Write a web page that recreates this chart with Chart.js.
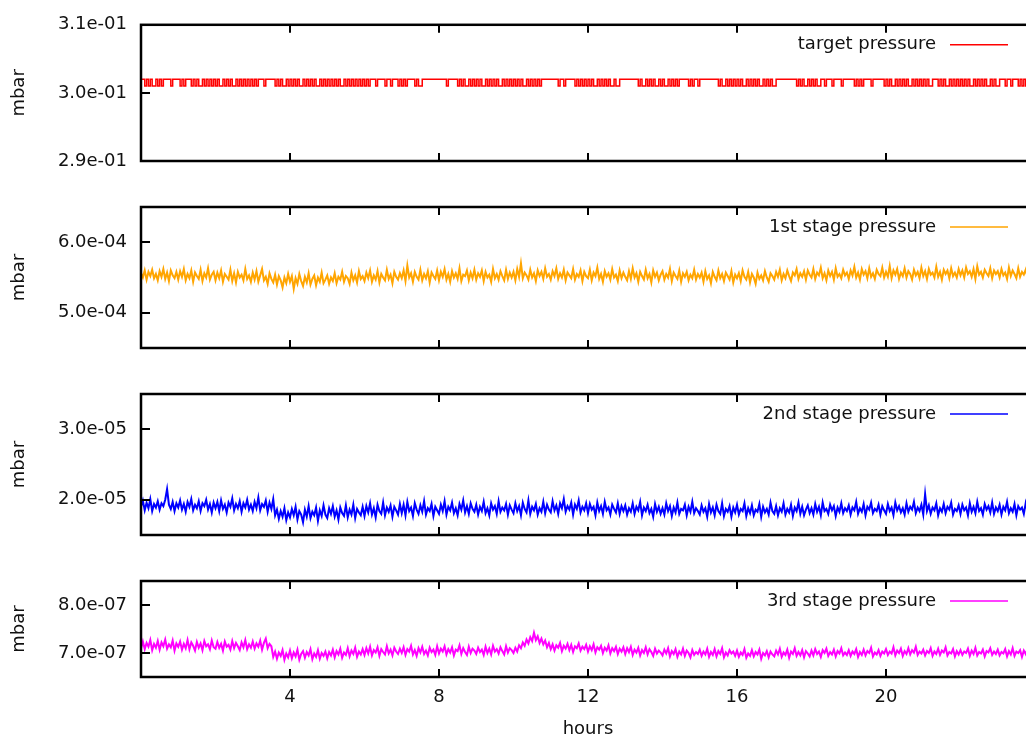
<!DOCTYPE html>
<html>
<head>
<meta charset="utf-8">
<script src="https://cdn.jsdelivr.net/npm/chart.js@4/dist/chart.umd.min.js"></script>
<style>
  html, body { margin: 0; padding: 0; background: #fff; overflow: hidden; width: 1026px; height: 738px; }
  canvas { position: absolute; left: 0; top: 0; }
</style>
</head>
<body>
<canvas id="p0" width="1060" height="738"></canvas>
<canvas id="p1" width="1060" height="738"></canvas>
<canvas id="p2" width="1060" height="738"></canvas>
<canvas id="p3" width="1060" height="738"></canvas>
<script>
// x axis (hours)
const hourTicks = [4, 8, 12, 16, 20];
const hourMin = 0, hourMax = 24;

// all series: one sample every 0.05 h, one row per hour
const sampleStep = 0.05;

// target pressure, mbar (reading toggles between two levels)
const targetPressure = [
  0.302,0.302,0.301,0.302,0.301,0.302,0.301,0.301,0.302,0.301,0.302,0.301,0.302,0.302,0.302,0.302,0.301,0.302,0.302,0.302,
  0.302,0.301,0.302,0.301,0.302,0.302,0.302,0.301,0.302,0.301,0.302,0.301,0.301,0.302,0.301,0.302,0.301,0.302,0.301,0.302,
  0.301,0.302,0.301,0.301,0.302,0.301,0.302,0.301,0.302,0.301,0.301,0.302,0.301,0.302,0.301,0.302,0.301,0.302,0.301,0.302,
  0.301,0.302,0.301,0.302,0.302,0.302,0.301,0.302,0.302,0.302,0.302,0.302,0.301,0.302,0.301,0.302,0.301,0.301,0.302,0.301,
  0.302,0.301,0.302,0.301,0.302,0.301,0.301,0.302,0.301,0.302,0.301,0.302,0.301,0.302,0.301,0.301,0.302,0.301,0.302,0.301,
  0.302,0.301,0.302,0.301,0.302,0.301,0.302,0.301,0.301,0.302,0.301,0.302,0.301,0.302,0.301,0.302,0.301,0.302,0.301,0.302,
  0.301,0.302,0.301,0.302,0.302,0.302,0.301,0.302,0.302,0.302,0.302,0.301,0.302,0.302,0.301,0.302,0.302,0.302,0.301,0.302,
  0.301,0.302,0.301,0.302,0.302,0.302,0.302,0.301,0.302,0.301,0.301,0.302,0.302,0.302,0.302,0.302,0.302,0.302,0.302,0.302,
  0.302,0.302,0.302,0.302,0.301,0.302,0.302,0.302,0.302,0.302,0.301,0.302,0.301,0.302,0.301,0.301,0.302,0.301,0.302,0.301,
  0.302,0.301,0.302,0.301,0.301,0.302,0.301,0.302,0.301,0.302,0.301,0.302,0.301,0.301,0.302,0.301,0.302,0.301,0.302,0.301,
  0.302,0.301,0.302,0.301,0.302,0.301,0.301,0.302,0.301,0.302,0.301,0.302,0.301,0.302,0.301,0.302,0.302,0.302,0.302,0.302,
  0.302,0.302,0.302,0.302,0.301,0.302,0.302,0.301,0.302,0.302,0.302,0.302,0.302,0.301,0.302,0.301,0.302,0.301,0.302,0.301,
  0.302,0.301,0.302,0.301,0.301,0.302,0.301,0.302,0.301,0.302,0.301,0.302,0.301,0.301,0.302,0.301,0.301,0.302,0.302,0.302,
  0.302,0.302,0.302,0.302,0.302,0.302,0.302,0.301,0.302,0.301,0.301,0.302,0.301,0.302,0.301,0.302,0.301,0.301,0.302,0.301,
  0.302,0.301,0.301,0.302,0.301,0.302,0.301,0.302,0.301,0.302,0.302,0.302,0.302,0.302,0.301,0.302,0.301,0.302,0.302,0.301,
  0.302,0.302,0.302,0.302,0.302,0.302,0.302,0.302,0.302,0.302,0.301,0.302,0.301,0.301,0.302,0.301,0.302,0.301,0.302,0.301,
  0.302,0.301,0.302,0.301,0.301,0.302,0.301,0.302,0.301,0.302,0.301,0.302,0.301,0.301,0.302,0.301,0.302,0.301,0.302,0.301,
  0.301,0.302,0.302,0.302,0.302,0.302,0.302,0.302,0.302,0.302,0.302,0.302,0.301,0.302,0.301,0.302,0.301,0.301,0.302,0.301,
  0.302,0.301,0.302,0.301,0.301,0.302,0.302,0.301,0.302,0.302,0.302,0.301,0.302,0.302,0.302,0.302,0.301,0.302,0.302,0.302,
  0.302,0.302,0.302,0.301,0.302,0.301,0.302,0.301,0.302,0.302,0.302,0.302,0.301,0.302,0.302,0.302,0.302,0.302,0.302,0.301,
  0.302,0.301,0.302,0.301,0.301,0.302,0.301,0.302,0.301,0.302,0.301,0.302,0.301,0.301,0.302,0.301,0.302,0.301,0.302,0.301,
  0.302,0.301,0.302,0.301,0.301,0.302,0.302,0.302,0.301,0.302,0.301,0.302,0.301,0.301,0.302,0.301,0.302,0.301,0.302,0.301,
  0.302,0.301,0.302,0.301,0.302,0.301,0.301,0.302,0.301,0.302,0.301,0.302,0.301,0.302,0.301,0.301,0.302,0.301,0.302,0.301,
  0.301,0.302,0.302,0.302,0.301,0.302,0.302,0.301,0.302,0.302,0.302,0.301,0.302,0.301,0.302,0.301,0.302,0.302,0.302,0.302,
  0.302
];

// 1st stage, in units of 1e-4 mbar
const stage1Unit = 1e-4;
const stage1 = [
  5.56,5.50,5.60,5.47,5.58,5.52,5.61,5.49,5.55,5.46,5.59,5.51,5.62,5.48,5.57,5.45,5.60,5.53,5.49,5.58,
  5.47,5.59,5.51,5.62,5.46,5.55,5.49,5.60,5.44,5.57,5.52,5.48,5.61,5.45,5.56,5.50,5.63,5.47,5.54,5.58,
  5.46,5.57,5.49,5.60,5.44,5.55,5.51,5.47,5.61,5.45,5.56,5.43,5.58,5.50,5.54,5.46,5.62,5.48,5.53,5.44,
  5.57,5.47,5.59,5.44,5.53,5.62,5.46,5.51,5.41,5.56,5.48,5.43,5.54,5.40,5.52,5.46,5.36,5.50,5.42,5.55,
  5.44,5.52,5.34,5.49,5.41,5.55,5.45,5.38,5.51,5.43,5.56,5.40,5.48,5.53,5.39,5.50,5.44,5.57,5.42,5.47,
  5.53,5.41,5.50,5.45,5.56,5.42,5.51,5.47,5.58,5.44,5.52,5.49,5.41,5.57,5.46,5.53,5.43,5.59,5.48,5.52,
  5.45,5.57,5.49,5.60,5.44,5.53,5.47,5.59,5.43,5.55,5.50,5.46,5.61,5.48,5.54,5.42,5.58,5.51,5.47,5.56,
  5.49,5.60,5.45,5.67,5.50,5.56,5.44,5.58,5.51,5.47,5.61,5.46,5.55,5.49,5.59,5.43,5.57,5.52,5.48,5.60,
  5.46,5.58,5.51,5.62,5.47,5.55,5.44,5.59,5.50,5.56,5.48,5.63,5.45,5.54,5.52,5.60,5.46,5.57,5.49,5.61,
  5.47,5.56,5.51,5.60,5.45,5.58,5.50,5.54,5.44,5.62,5.49,5.55,5.47,5.59,5.52,5.46,5.61,5.48,5.57,5.50,
  5.58,5.46,5.62,5.51,5.70,5.49,5.57,5.53,5.47,5.61,5.50,5.56,5.45,5.60,5.52,5.58,5.48,5.63,5.51,5.55,
  5.47,5.59,5.52,5.63,5.48,5.56,5.50,5.61,5.46,5.57,5.53,5.49,5.62,5.47,5.55,5.51,5.60,5.45,5.58,5.52,
  5.49,5.61,5.46,5.57,5.52,5.64,5.48,5.55,5.44,5.59,5.51,5.56,5.47,5.62,5.50,5.54,5.45,5.60,5.49,5.57,
  5.51,5.46,5.59,5.48,5.63,5.50,5.56,5.44,5.58,5.52,5.47,5.61,5.49,5.55,5.43,5.60,5.51,5.57,5.46,5.54,
  5.59,5.47,5.55,5.50,5.62,5.45,5.57,5.52,5.48,5.60,5.44,5.56,5.51,5.58,5.46,5.54,5.49,5.61,5.47,5.55,
  5.50,5.57,5.44,5.59,5.48,5.53,5.42,5.58,5.51,5.46,5.60,5.49,5.55,5.45,5.57,5.52,5.47,5.59,5.43,5.54,
  5.49,5.56,5.45,5.60,5.51,5.47,5.58,5.43,5.55,5.50,5.41,5.57,5.48,5.53,5.46,5.59,5.50,5.44,5.56,5.52,
  5.47,5.58,5.51,5.61,5.46,5.55,5.49,5.60,5.52,5.45,5.57,5.53,5.62,5.48,5.56,5.51,5.59,5.47,5.60,5.54,
  5.50,5.62,5.48,5.57,5.53,5.64,5.49,5.56,5.46,5.60,5.52,5.58,5.47,5.63,5.51,5.55,5.49,5.61,5.53,5.57,
  5.48,5.60,5.53,5.65,5.50,5.57,5.47,5.62,5.54,5.59,5.49,5.63,5.51,5.56,5.48,5.61,5.55,5.52,5.64,5.50,
  5.58,5.51,5.66,5.49,5.60,5.54,5.62,5.48,5.57,5.52,5.63,5.50,5.59,5.55,5.47,5.61,5.53,5.58,5.49,5.64,
  5.52,5.59,5.48,5.62,5.54,5.57,5.50,5.65,5.51,5.58,5.47,5.61,5.55,5.60,5.49,5.63,5.52,5.57,5.50,5.62,
  5.53,5.60,5.50,5.64,5.55,5.59,5.51,5.62,5.48,5.66,5.54,5.58,5.50,5.61,5.56,5.52,5.63,5.49,5.60,5.55,
  5.59,5.50,5.62,5.53,5.57,5.48,5.64,5.52,5.60,5.55,5.49,5.63,5.51,5.58,5.54,5.61,5.50,5.66,5.53,5.57,
  5.55
];

// 2nd stage, in units of 1e-5 mbar
const stage2Unit = 1e-5;
const stage2 = [
  1.90,1.99,1.85,1.96,1.88,2.01,1.84,1.94,1.89,1.98,1.86,1.95,1.91,2.00,2.15,1.93,1.87,1.97,1.84,1.95,
  1.89,1.99,1.86,1.94,1.83,1.97,1.90,2.01,1.85,1.93,1.88,1.98,1.84,1.95,1.91,2.00,1.86,1.94,1.82,1.96,
  1.88,1.97,1.84,1.99,1.87,1.93,1.82,1.96,1.90,2.02,1.85,1.94,1.88,1.98,1.83,1.95,1.89,2.00,1.86,1.93,
  1.84,1.97,1.88,2.03,1.85,1.94,1.90,1.99,1.83,1.96,1.87,2.01,1.78,1.86,1.73,1.84,1.76,1.88,1.71,1.82,
  1.75,1.87,1.78,1.90,1.72,1.84,1.79,1.68,1.86,1.76,1.91,1.74,1.83,1.78,1.89,1.70,1.85,1.77,1.92,1.79,
  1.74,1.88,1.80,1.91,1.76,1.85,1.72,1.89,1.81,1.77,1.92,1.75,1.86,1.79,1.93,1.74,1.87,1.82,1.78,1.90,
  1.77,1.91,1.82,1.95,1.79,1.88,1.75,1.93,1.84,1.80,1.96,1.78,1.89,1.83,1.92,1.76,1.90,1.85,1.79,1.94,
  1.81,1.93,1.78,1.97,1.84,1.89,1.77,1.95,1.86,1.80,1.92,1.83,1.98,1.79,1.88,1.84,1.94,1.77,1.90,1.85,
  1.80,1.93,1.84,1.98,1.79,1.90,1.85,1.96,1.81,1.88,1.78,1.94,1.86,1.99,1.82,1.91,1.80,1.95,1.87,1.83,
  1.93,1.79,1.90,1.84,1.97,1.81,1.88,1.78,1.95,1.86,1.91,1.80,1.98,1.83,1.89,1.85,1.94,1.79,1.92,1.86,
  1.81,1.95,1.84,1.91,1.78,1.96,1.87,1.82,1.99,1.80,1.90,1.85,1.94,1.79,1.88,1.83,1.97,1.81,1.93,1.86,
  1.82,1.98,1.85,1.92,1.80,1.95,1.88,2.01,1.83,1.91,1.86,1.96,1.79,1.93,1.87,1.99,1.82,1.90,1.85,1.95,
  1.81,1.94,1.86,1.90,1.78,1.96,1.84,1.91,1.80,1.97,1.85,1.89,1.79,1.93,1.87,1.82,1.95,1.80,1.91,1.84,
  1.92,1.79,1.88,1.83,1.95,1.80,1.90,1.85,1.97,1.78,1.89,1.84,1.93,1.81,1.87,1.76,1.94,1.83,1.90,1.80,
  1.88,1.79,1.95,1.84,1.91,1.77,1.89,1.82,1.96,1.80,1.87,1.85,1.93,1.78,1.90,1.83,1.97,1.81,1.88,1.84,
  1.79,1.92,1.83,1.88,1.76,1.94,1.82,1.89,1.78,1.93,1.84,1.80,1.95,1.77,1.87,1.83,1.91,1.76,1.89,1.82,
  1.93,1.79,1.87,1.84,1.95,1.77,1.88,1.81,1.92,1.78,1.86,1.83,1.94,1.76,1.90,1.82,1.87,1.79,1.96,1.84,
  1.80,1.91,1.78,1.88,1.83,1.95,1.79,1.87,1.82,1.93,1.77,1.89,1.84,1.96,1.80,1.90,1.78,1.86,1.92,1.81,
  1.88,1.79,1.94,1.83,1.90,1.78,1.96,1.84,1.87,1.80,1.93,1.85,1.91,1.77,1.89,1.83,1.95,1.81,1.88,1.84,
  1.92,1.79,1.89,1.85,1.97,1.80,1.88,1.83,1.94,1.78,1.90,1.86,1.96,1.81,1.87,1.84,1.93,1.79,1.91,1.85,
  1.80,1.94,1.84,1.89,1.78,1.96,1.85,1.91,1.82,1.88,1.79,1.95,1.83,1.90,1.86,1.97,1.81,1.89,1.84,1.93,
  1.79,2.08,1.84,1.92,1.80,1.89,1.85,1.95,1.78,1.88,1.83,1.94,1.81,1.90,1.86,1.96,1.79,1.87,1.84,1.92,
  1.80,1.93,1.85,1.89,1.78,1.95,1.83,1.90,1.81,1.97,1.84,1.88,1.79,1.94,1.86,1.91,1.82,1.96,1.80,1.89,
  1.84,1.93,1.79,1.90,1.85,1.97,1.81,1.88,1.83,1.94,1.78,1.91,1.86,1.89,1.80,1.95,1.84,1.90,1.82,1.93,
  1.86
];

// 3rd stage, in units of 1e-7 mbar
const stage3Unit = 1e-7;
const stage3 = [
  7.10,7.24,7.08,7.21,7.13,7.27,7.06,7.19,7.11,7.25,7.07,7.22,7.14,7.28,7.09,7.18,7.12,7.26,7.05,7.20,
  7.13,7.24,7.07,7.19,7.10,7.27,7.08,7.22,7.15,7.05,7.23,7.11,7.20,7.06,7.25,7.14,7.18,7.08,7.26,7.12,
  7.09,7.23,7.11,7.19,7.05,7.24,7.13,7.17,7.07,7.25,7.10,7.21,7.14,7.06,7.22,7.12,7.27,7.08,7.18,7.11,
  7.24,7.09,7.20,7.13,7.26,7.07,7.21,7.30,7.10,7.19,7.14,6.92,7.03,6.88,7.01,6.94,7.06,6.86,6.99,6.91,
  7.05,6.89,7.01,6.93,7.07,6.86,6.98,7.04,6.90,7.02,6.95,7.08,6.87,6.99,6.92,7.06,6.88,7.00,6.94,7.03,
  6.89,7.02,6.95,7.07,6.91,7.04,6.97,7.09,6.90,7.01,6.96,7.10,6.93,7.05,6.98,7.11,6.92,7.03,6.97,7.08,
  6.96,7.10,6.99,7.13,6.95,7.06,7.01,7.12,6.94,7.08,7.02,6.97,7.14,6.99,7.07,6.95,7.11,7.03,6.98,7.09,
  7.00,7.12,6.96,7.08,7.03,7.15,6.97,7.06,6.94,7.10,7.01,7.13,6.98,7.05,6.95,7.11,7.02,7.07,6.96,7.14,
  6.99,7.09,7.03,7.14,6.97,7.08,7.01,7.12,6.95,7.07,7.04,7.16,6.98,7.10,7.02,6.96,7.13,7.00,7.09,7.05,
  6.98,7.11,7.02,7.07,6.96,7.13,7.00,7.09,6.97,7.15,7.03,7.08,6.99,7.12,7.04,6.97,7.14,7.01,7.10,7.06,
  7.00,7.11,7.03,7.16,7.10,7.22,7.15,7.28,7.20,7.33,7.25,7.42,7.27,7.35,7.21,7.30,7.18,7.26,7.12,7.21,
  7.08,7.18,7.05,7.16,7.11,7.21,7.04,7.15,7.09,7.19,7.06,7.17,7.02,7.14,7.10,7.20,7.05,7.13,7.08,7.17,
  7.03,7.14,7.06,7.18,7.01,7.12,7.07,7.15,7.00,7.11,7.05,7.16,6.99,7.10,7.04,7.13,6.98,7.09,7.03,7.12,
  6.98,7.10,7.02,7.13,6.96,7.07,7.01,7.11,6.95,7.06,7.00,7.12,6.97,7.08,7.02,6.94,7.09,6.99,7.05,7.01,
  6.95,7.07,6.99,7.10,6.93,7.04,6.98,7.08,6.92,7.03,6.97,7.09,6.94,7.05,7.00,6.91,7.06,6.96,7.02,6.98,
  7.07,6.94,7.03,6.97,7.09,6.92,7.02,6.96,7.08,6.93,7.04,6.98,7.10,6.91,7.01,6.95,7.06,6.99,7.03,6.94,
  7.05,6.92,7.01,6.96,7.08,6.90,6.99,6.94,7.06,6.93,7.02,6.97,7.07,6.88,7.00,6.95,7.04,6.91,7.03,6.97,
  6.93,7.05,6.97,7.09,6.92,7.01,6.96,7.07,6.90,7.03,6.98,7.10,6.94,7.02,6.95,7.06,6.91,7.04,6.99,6.93,
  7.05,6.95,7.08,6.98,7.03,6.92,7.06,7.00,7.09,6.94,7.02,6.97,7.07,6.93,7.04,6.99,7.10,6.95,7.01,6.96,
  7.06,6.94,7.03,6.98,7.08,6.92,7.02,6.96,7.07,6.95,7.04,7.00,7.11,6.93,7.01,6.97,7.06,6.94,7.03,6.99,
  7.08,6.96,7.03,6.99,7.12,6.95,7.05,7.00,7.09,6.94,7.04,6.98,7.10,6.97,7.06,7.01,7.13,6.96,7.03,6.99,
  7.07,6.95,7.04,7.00,7.10,6.94,7.03,6.98,7.09,6.96,7.05,7.01,7.12,6.95,7.02,6.99,7.08,6.93,7.04,6.97,
  7.06,6.96,7.03,7.00,7.09,6.94,7.05,6.98,7.11,6.95,7.02,6.99,7.07,6.93,7.04,7.01,7.10,6.96,7.03,6.98,
  7.07,6.95,7.02,6.99,7.08,6.93,7.04,6.97,7.10,6.94,7.03,7.00,7.06,6.92,7.05,6.98,7.09,6.96,7.01,6.98,
  7.03
];

// y ranges and tick values, mbar
const targetRange = [0.29, 0.31];
const targetTicks = [0.29, 0.30, 0.31];
const stage1Range = [4.5e-4, 6.5e-4];
const stage1Ticks = [5e-4, 6e-4];
const stage2Range = [1.5e-5, 3.5e-5];
const stage2Ticks = [2e-5, 3e-5];
const stage3Range = [6.5e-7, 8.5e-7];
const stage3Ticks = [7e-7, 8e-7];

const FONT = { family: '"DejaVu Sans", sans-serif', size: 18 };
const INK = '#111';

function sci(v) {
  let exp = Math.floor(Math.log10(Math.abs(v)) + 1e-9);
  let mant = v / Math.pow(10, exp);
  if (Math.round(mant * 10) / 10 >= 10) { mant /= 10; exp += 1; }
  return mant.toFixed(1) + 'e' + (exp < 0 ? '-' : '+') + String(Math.abs(exp)).padStart(2, '0');
}

function toPoints(values, unit) {
  return values.map((v, i) => ({ x: i * sampleStep, y: v * unit }));
}

// gnuplot style frame: border, inward mirrored ticks, key in top right
const framePlugin = {
  id: 'frame',
  afterDraw(chart, args, opts) {
    const { ctx, chartArea: a, scales } = chart;
    ctx.save();
    ctx.strokeStyle = '#000';
    ctx.lineWidth = 2;
    hourTicks.forEach(h => {
      const x = Math.round(scales.x.getPixelForValue(h));
      ctx.beginPath();
      ctx.moveTo(x, a.top); ctx.lineTo(x, a.top + 8);
      ctx.moveTo(x, a.bottom); ctx.lineTo(x, a.bottom - 8);
      ctx.stroke();
    });
    opts.yTicks.forEach(v => {
      const y = Math.round(scales.y.getPixelForValue(v));
      ctx.beginPath();
      ctx.moveTo(a.left, y); ctx.lineTo(a.left + 9, y);
      ctx.moveTo(a.right, y); ctx.lineTo(a.right - 9, y);
      ctx.stroke();
    });
    ctx.lineWidth = 2.5;
    ctx.strokeRect(a.left, a.top, a.right - a.left, a.bottom - a.top);

    const ky = a.top + 20;
    ctx.font = FONT.size + 'px ' + FONT.family;
    ctx.fillStyle = INK;
    ctx.textAlign = 'right';
    ctx.textBaseline = 'middle';
    ctx.fillText(opts.label, 936, ky);
    ctx.strokeStyle = opts.color;
    ctx.lineWidth = 1.5;
    ctx.beginPath();
    ctx.moveTo(950, ky); ctx.lineTo(1008, ky);
    ctx.stroke();
    ctx.restore();
  }
};

function makePanel(id, opts) {
  const bottomAxis = opts.showX;
  return new Chart(document.getElementById(id), {
    type: 'line',
    data: {
      datasets: [{
        label: opts.label,
        data: opts.points,
        borderColor: opts.color,
        borderWidth: opts.lineWidth,
        stepped: opts.stepped || false,
        pointRadius: 0,
        tension: 0,
        fill: false
      }]
    },
    options: {
      responsive: false,
      animation: false,
      events: [],
      layout: { padding: { top: opts.top, bottom: opts.bottom, left: 0, right: 25 } },
      plugins: {
        legend: { display: false },
        tooltip: { enabled: false },
        frame: { label: opts.label, color: opts.color, yTicks: opts.yTicks }
      },
      scales: {
        x: {
          type: 'linear',
          min: hourMin,
          max: hourMax,
          display: bottomAxis,
          afterBuildTicks: s => { s.ticks = hourTicks.map(value => ({ value })); },
          afterFit: s => { if (bottomAxis) s.height = 61; },
          grid: { display: false, drawTicks: false },
          border: { display: false },
          ticks: { font: FONT, color: INK, padding: 10, maxRotation: 0, autoSkip: false },
          title: { display: true, text: 'hours', font: FONT, color: INK, padding: { top: 0, bottom: -2 } }
        },
        y: {
          type: 'linear',
          min: opts.range[0],
          max: opts.range[1],
          afterBuildTicks: s => { s.ticks = opts.yTicks.map(value => ({ value })); },
          afterFit: s => { s.width = 141; },
          grid: { display: false, drawTicks: false },
          border: { display: false },
          ticks: { font: FONT, color: INK, padding: 14, callback: v => sci(v) },
          title: { display: true, text: 'mbar', font: FONT, color: INK, padding: { top: 9, bottom: 0 } }
        }
      }
    },
    plugins: [framePlugin]
  });
}

makePanel('p0', {
  label: 'target pressure', color: '#ff0000', lineWidth: 1.5, stepped: true,
  points: toPoints(targetPressure, 1),
  range: targetRange, yTicks: targetTicks, top: 20, bottom: 577, showX: false
});
makePanel('p1', {
  label: '1st stage pressure', color: '#ffa500', lineWidth: 2,
  points: toPoints(stage1, stage1Unit),
  range: stage1Range, yTicks: stage1Ticks, top: 207, bottom: 390, showX: false
});
makePanel('p2', {
  label: '2nd stage pressure', color: '#0000ff', lineWidth: 2,
  points: toPoints(stage2, stage2Unit),
  range: stage2Range, yTicks: stage2Ticks, top: 394, bottom: 203, showX: false
});
makePanel('p3', {
  label: '3rd stage pressure', color: '#ff00ff', lineWidth: 2,
  points: toPoints(stage3, stage3Unit),
  range: stage3Range, yTicks: stage3Ticks, top: 581, bottom: 0, showX: true
});
</script>
</body>
</html>
